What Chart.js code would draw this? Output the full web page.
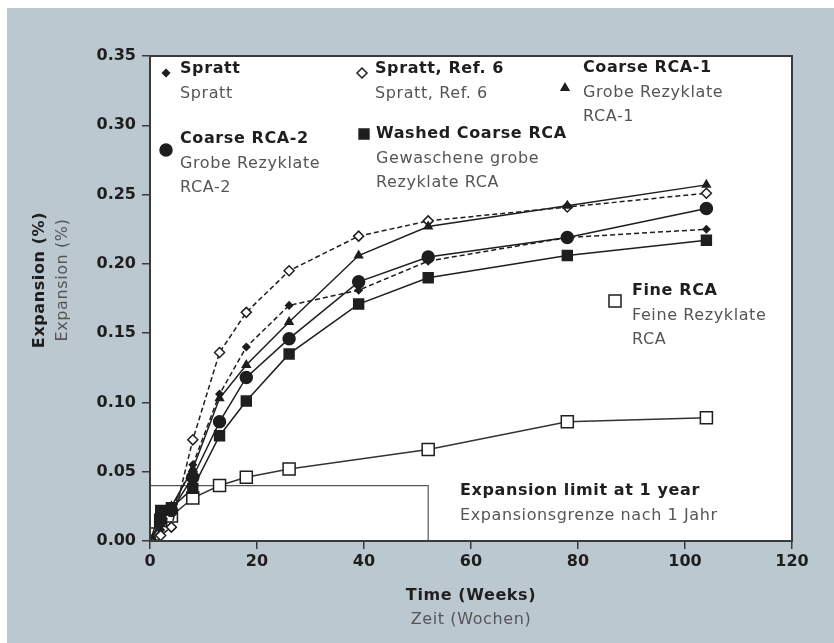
<!DOCTYPE html>
<html>
<head>
<meta charset="utf-8">
<script src="https://cdn.jsdelivr.net/npm/chart.js@4/dist/chart.umd.min.js"></script>
<style>
  html, body { margin: 0; padding: 0; background: #fff; }
  #wrap { width: 834px; height: 643px; position: relative; }
</style>
</head>
<body>
<div id="wrap"><canvas id="expansion" width="834" height="643"></canvas></div>
<script>
// weeks at which the samples were measured
var weeks = [0, 2, 4, 8, 13, 18, 26, 39, 52, 78, 104];
var weeksFine = [0, 1, 2, 4, 8, 13, 18, 26, 52, 78, 104];

// expansion in %
var spratt     = [0, 0.008, 0.022, 0.055, 0.106, 0.140, 0.170, 0.181, 0.202, 0.219, 0.225];
var sprattRef6 = [0, 0.004, 0.010, 0.073, 0.136, 0.165, 0.195, 0.220, 0.231, 0.241, 0.251];
var coarse1    = [0, 0.012, 0.025, 0.052, 0.103, 0.127, 0.158, 0.206, 0.227, 0.242, 0.257];
var coarse2    = [0, 0.015, 0.022, 0.046, 0.086, 0.118, 0.146, 0.187, 0.205, 0.219, 0.240];
var washed     = [0, 0.022, 0.024, 0.038, 0.076, 0.101, 0.135, 0.171, 0.190, 0.206, 0.217];
var fineRca    = [0, 0.005, 0.015, 0.018, 0.031, 0.040, 0.046, 0.052, 0.066, 0.086, 0.089];

// expansion limit at 1 year (52 weeks, 0.04 %)
var limitWeeks = [0, 52, 52];
var limitValues = [0.04, 0.04, 0];

var xTicks = [0, 20, 40, 60, 80, 100, 120];
var yTicks = [0, 0.05, 0.10, 0.15, 0.20, 0.25, 0.30, 0.35];

var FONT = "'DejaVu Sans', sans-serif";
var INK = '#1e1e1e';
var GREY = '#555';
var AXIS = '#3a3a3a';

function pts(xs, ys) {
    return xs.map(function (x, i) { return { x: x, y: ys[i] }; });
}

function series(label, xs, ys, style) {
    return Object.assign({
        label: label,
        data: pts(xs, ys),
        borderColor: INK,
        borderWidth: 1.5,
        backgroundColor: INK,
        pointBorderColor: INK,
        pointBorderWidth: 1.5,
        tension: 0,
        fill: false
    }, style);
}

// legend entries: marker + bold english + grey german lines
var notes = [
    { dx: 16, dy: 17, mark: 'spratt', lines: ['Spratt', 'Spratt'], tx: 30 },
    { dx: 212, dy: 17, mark: 'ref6', lines: ['Spratt, Ref. 6', 'Spratt, Ref. 6'], tx: 225 },
    { dx: 415, dy: 32, mark: 'coarse1', lines: ['Coarse RCA-1', 'Grobe Rezyklate', 'RCA-1'], tx: 433, ty: 12 },
    { dx: 16, dy: 94, mark: 'coarse2', lines: ['Coarse RCA-2', 'Grobe Rezyklate', 'RCA-2'], tx: 30, ty: 83 },
    { dx: 214, dy: 78, mark: 'washed', lines: ['Washed Coarse RCA', 'Gewaschene grobe', 'Rezyklate RCA'], tx: 226, ty: 78 },
    { dx: 465, dy: 245, mark: 'fine', lines: ['Fine RCA', 'Feine Rezyklate', 'RCA'], tx: 482, ty: 235 },
    { mark: null, lines: ['Expansion limit at 1 year', 'Expansionsgrenze nach 1 Jahr'], tx: 310, ty: 435 }
];

var markStyles = {
    spratt:  { style: 'rectRot', radius: 3.5, fill: INK },
    ref6:    { style: 'rectRot', radius: 5, fill: '#fff' },
    coarse1: { style: 'triangle', radius: 4.5, fill: INK },
    coarse2: { style: 'circle', radius: 6, fill: INK },
    washed:  { style: 'rect', radius: 7, fill: INK },
    fine:    { style: 'rect', radius: 8.5, fill: '#fff' }
};

var backdrop = {
    id: 'backdrop',
    beforeDraw: function (chart) {
        var ctx = chart.ctx, a = chart.chartArea;
        ctx.save();
        ctx.fillStyle = '#fff';
        ctx.fillRect(0, 0, chart.width, chart.height);
        ctx.fillStyle = '#bcc8d0';
        ctx.fillRect(7, 8, chart.width - 7, chart.height - 8);
        ctx.fillStyle = '#fff';
        ctx.fillRect(a.left, a.top, a.right - a.left, a.bottom - a.top);
        ctx.restore();
    },
    afterDraw: function (chart) {
        var ctx = chart.ctx, a = chart.chartArea;
        ctx.save();
        ctx.strokeStyle = AXIS;
        ctx.lineWidth = 2;
        ctx.strokeRect(a.left, a.top, a.right - a.left, a.bottom - a.top);

        // legend notes
        notes.forEach(function (n) {
            if (n.mark) {
                var m = markStyles[n.mark];
                ctx.fillStyle = m.fill;
                ctx.strokeStyle = INK;
                ctx.lineWidth = 1.5;
                Chart.helpers.drawPoint(ctx, { pointStyle: m.style, radius: m.radius, borderWidth: 1.5 },
                    a.left + n.dx, a.top + n.dy);
            }
            var ty = a.top + (n.ty !== undefined ? n.ty : 13);
            ctx.textBaseline = 'middle';
            ctx.textAlign = 'left';
            ctx.letterSpacing = '0.6px';
            n.lines.forEach(function (t, i) {
                ctx.font = (i === 0 ? 'bold ' : '') + '16px ' + FONT;
                ctx.fillStyle = i === 0 ? INK : GREY;
                ctx.fillText(t, a.left + n.tx, ty + i * 24.5);
            });
        });

        // axis titles
        ctx.textAlign = 'center';
        ctx.letterSpacing = '0.6px';
        var cx = 471;
        ctx.font = 'bold 16px ' + FONT;
        ctx.fillStyle = INK;
        ctx.fillText('Time (Weeks)', cx, 596);
        ctx.font = '16px ' + FONT;
        ctx.fillStyle = GREY;
        ctx.fillText('Zeit (Wochen)', cx, 620);

        ctx.save();
        ctx.translate(40, 280);
        ctx.rotate(-Math.PI / 2);
        ctx.font = 'bold 16px ' + FONT;
        ctx.fillStyle = INK;
        ctx.fillText('Expansion (%)', 0, 0);
        ctx.restore();
        ctx.save();
        ctx.translate(63, 280);
        ctx.rotate(-Math.PI / 2);
        ctx.font = '16px ' + FONT;
        ctx.fillStyle = GREY;
        ctx.fillText('Expansion (%)', 0, 0);
        ctx.restore();
        ctx.restore();
    }
};

var ctx = document.getElementById('expansion').getContext('2d');
var chart = new Chart(ctx, {
    type: 'line',
    data: {
        datasets: [
            series('Expansion limit', limitWeeks, limitValues, {
                borderColor: '#555', borderWidth: 1.2, pointRadius: 0, order: 10
            }),
            series('Fine RCA', weeksFine, fineRca, {
                borderColor: '#333', pointStyle: 'rect', pointRadius: 8.5, backgroundColor: '#fff', order: 6
            }),
            series('Washed Coarse RCA', weeks, washed, {
                pointStyle: 'rect', pointRadius: 7, order: 5
            }),
            series('Coarse RCA-2', weeks, coarse2, {
                pointStyle: 'circle', pointRadius: 6, order: 4
            }),
            series('Spratt', weeks, spratt, {
                borderDash: [5, 3], pointStyle: 'rectRot', pointRadius: 3.5, order: 3
            }),
            series('Spratt, Ref. 6', weeks, sprattRef6, {
                borderDash: [5, 3], pointStyle: 'rectRot', pointRadius: 5, backgroundColor: '#fff', order: 2
            }),
            series('Coarse RCA-1', weeks, coarse1, {
                pointStyle: 'triangle', pointRadius: 4.5, order: 1
            })
        ]
    },
    options: {
        responsive: false,
        animation: false,
        layout: { padding: { left: 0, top: 56, right: 42, bottom: 0 } },
        plugins: {
            legend: { display: false },
            tooltip: { enabled: false }
        },
        scales: {
            x: {
                type: 'linear',
                min: 0,
                max: 120,
                afterFit: function (s) { s.height = 102; },
                afterBuildTicks: function (s) { s.ticks = xTicks.map(function (v) { return { value: v }; }); },
                grid: { drawOnChartArea: false, drawTicks: true, tickLength: 8, color: AXIS, lineWidth: 1.5 },
                border: { display: true, color: AXIS, width: 2 },
                ticks: {
                    color: INK,
                    padding: 3,
                    font: { family: FONT, size: 16, weight: 'bold' },
                    maxRotation: 0
                }
            },
            y: {
                min: 0,
                max: 0.35,
                afterFit: function (s) { s.width = 150; },
                afterBuildTicks: function (s) { s.ticks = yTicks.map(function (v) { return { value: v }; }); },
                grid: { drawOnChartArea: false, drawTicks: true, tickLength: 8, color: AXIS, lineWidth: 1.5 },
                border: { display: true, color: AXIS, width: 2 },
                ticks: {
                    color: INK,
                    padding: 6,
                    font: { family: FONT, size: 16, weight: 'bold' },
                    callback: function (v) { return v.toFixed(2); }
                }
            }
        }
    },
    plugins: [backdrop]
});
</script>
</body>
</html>
